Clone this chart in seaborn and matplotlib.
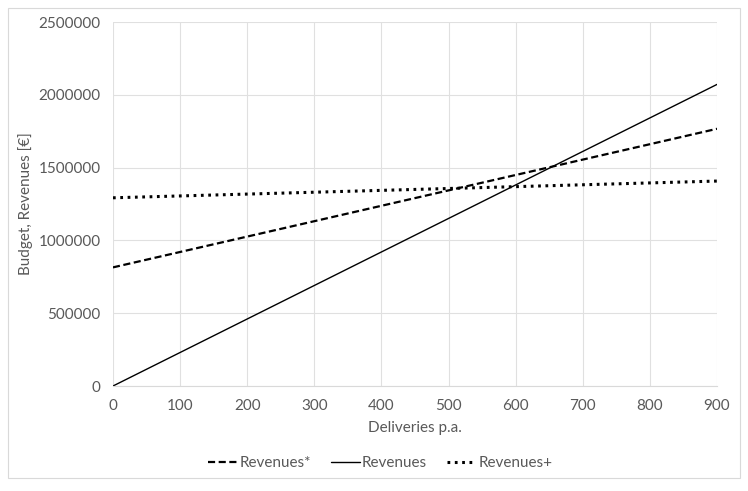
import pandas as pd
import matplotlib.pyplot as plt
import seaborn as sns
from matplotlib.patches import Rectangle

plt.switch_backend("Agg")
sns.set_theme(style="white")
plt.rcParams["font.family"] = ["Lato", "DejaVu Sans"]

# Data (straight lines, end points)
deliveries = [0, 900]
revenues_star = [815000, 1767000]
revenues = [0, 2072000]
revenues_plus = [1293000, 1408000]

x_ticks = [0, 100, 200, 300, 400, 500, 600, 700, 800, 900]
y_ticks = [0, 500000, 1000000, 1500000, 2000000, 2500000]

TEXT = "#595959"
GRID = "#e0e0e0"

fig = plt.figure(figsize=(7.48, 4.91), dpi=100)
ax = fig.add_axes([0.151, 0.2138, 0.8076, 0.7412])

series = [
    ("Revenues*", revenues_star, (0, (3.2, 1.6)), 1.6),
    ("Revenues", revenues, "-", 1.0),
    ("Revenues+", revenues_plus, (0, (0.9, 1.5)), 2.2),
]
for name, vals, ls, lw in series:
    df = pd.DataFrame({"x": deliveries, "y": vals})
    sns.lineplot(data=df, x="x", y="y", ax=ax, color="black",
                 linestyle=ls, linewidth=lw, label=name)

ax.set_xlim(0, 900)
ax.set_ylim(0, 2500000)
ax.set_xticks(x_ticks)
ax.set_yticks(y_ticks)
ax.set_xticklabels([str(v) for v in x_ticks])
ax.set_yticklabels([str(v) for v in y_ticks])
ax.tick_params(colors=TEXT, labelsize=11, length=0, pad=9)
ax.grid(True, color=GRID, linewidth=0.8)
for side in ["top", "right", "left"]:
    ax.spines[side].set_visible(False)
ax.spines["bottom"].set_color("#d9d9d9")
ax.spines["bottom"].set_linewidth(0.8)

ax.set_xlabel("Deliveries p.a.", color=TEXT, fontsize=11, labelpad=6)
ax.set_ylabel("Budget, Revenues [€]", color=TEXT, fontsize=11, labelpad=4)

ax.legend(loc="center", bbox_to_anchor=(0.508, 0.057), bbox_transform=fig.transFigure,
          ncol=3, frameon=False, fontsize=11, labelcolor=TEXT,
          handlelength=1.9, handletextpad=0.15, columnspacing=1.3)

# light chart-area border
fig.patches.append(Rectangle((0.011, 0.027), 0.978, 0.957, transform=fig.transFigure,
                             fill=False, edgecolor="#d9d9d9", linewidth=0.8))

fig.savefig("out.png", dpi=100)
